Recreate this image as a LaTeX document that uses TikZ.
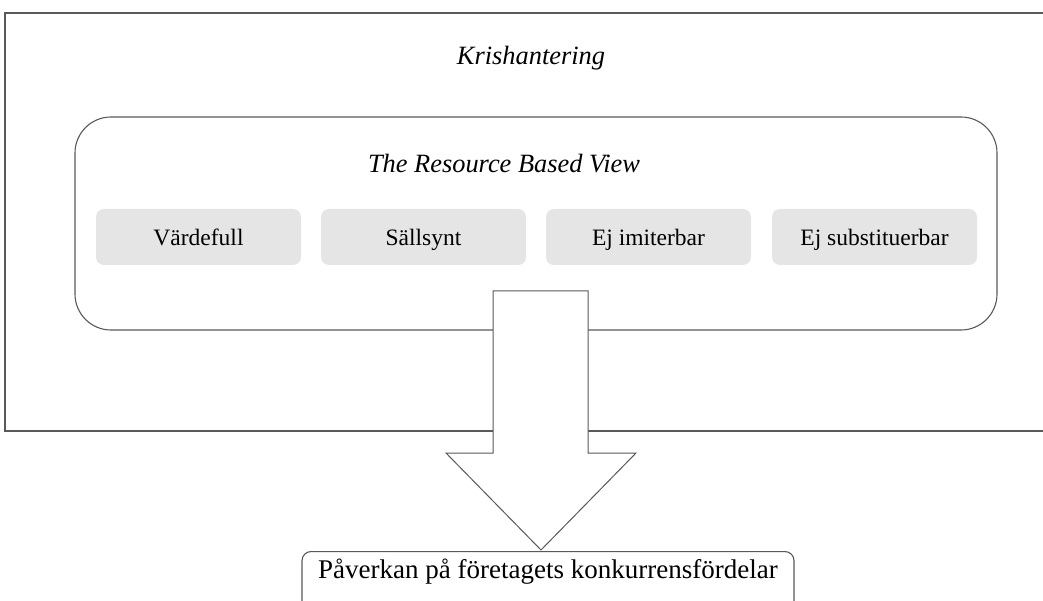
\documentclass[tikz,border=0pt]{standalone}
\usepackage{fontspec}
\setmainfont{Liberation Serif}
\begin{document}
\begin{tikzpicture}[x=1pt,y=-1pt,
  frame/.style={draw=black!65,line width=1.1pt},
  crit/.style={fill=black!10,rounded corners=8pt,minimum width=205pt,minimum height=56pt,inner sep=0pt,text height=20pt,text depth=2pt,font=\fontsize{23.5}{28}\selectfont},
  heading/.style={font=\fontsize{26.4}{30}\selectfont\itshape,anchor=base,inner sep=0pt}]
\useasboundingbox (0,0) rectangle (1043,601);
% outer frame (open to the right)
\draw[frame] (1043,13) -- (5,13) -- (5,431) -- (1043,431);
\node[heading] (kris) at (531,65) {Krishantering};
% inner rounded box
\node[frame,rounded corners=36pt,minimum width=922pt,minimum height=213pt,inner sep=0pt] (rbvbox) at (536,223.5) {};
\node[heading] (rbv) at (504,173) {The Resource Based View};
\node[crit] (v1) at (198.5,237) {Värdefull};
\node[crit] (v2) at (423.5,237) {Sällsynt};
\node[crit] (v3) at (648.5,237) {Ej imiterbar};
\node[crit] (v4) at (874.5,237) {Ej substituerbar};
% bottom box
\node[frame,rounded corners=9pt,minimum width=492pt,minimum height=64pt,inner sep=0pt,anchor=north] (out) at (548,551) {};
\node[font=\fontsize{27}{32}\selectfont,anchor=base,inner sep=0pt] (outtxt) at (548,578) {Påverkan på företagets konkurrensfördelar};
% big arrow
\coordinate (tip) at (541,550);
\draw[frame,fill=white,line width=1pt] (493,291) -- (588,291) -- (588,453) -- (636,453) -- (tip) -- (446,453) -- (493,453) -- cycle;
\end{tikzpicture}
\end{document}
